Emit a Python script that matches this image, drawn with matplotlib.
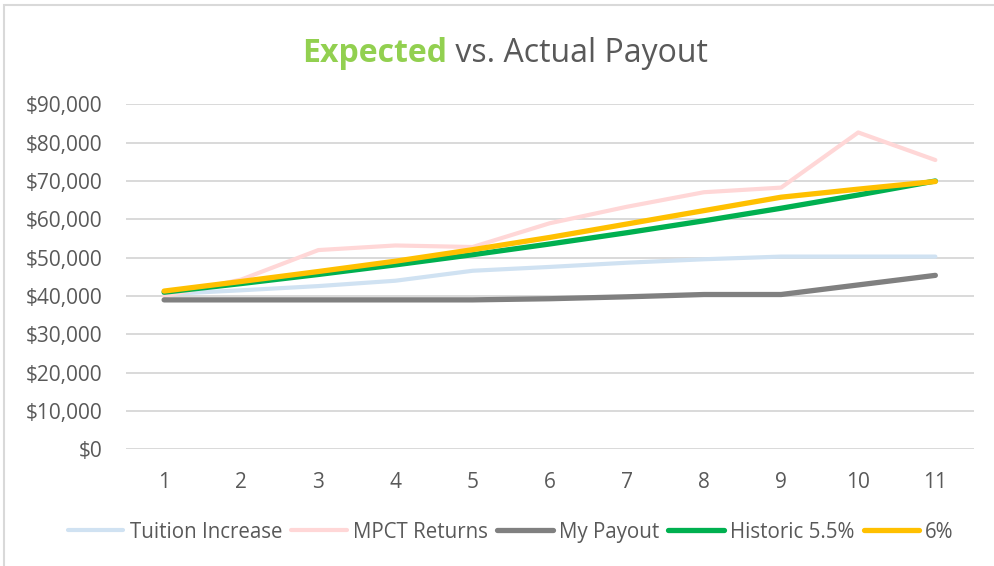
import numpy as np
import matplotlib.pyplot as plt
from matplotlib.patches import Rectangle

plt.rcParams['font.family'] = ['Open Sans', 'DejaVu Sans']

# data
years = [1, 2, 3, 4, 5, 6, 7, 8, 9, 10, 11]
tuition = [40500, 41500, 42600, 44000, 46600, 47600, 48700, 49600, 50300, 50300, 50300]
mpct = [40000, 44300, 52000, 53200, 52800, 59000, 63300, 67100, 68300, 82700, 75500]
my_payout = [39000, 39000, 39000, 39000, 39000, 39300, 39800, 40400, 40400, 42900, 45400]
historic = [41000, 43260, 45630, 48140, 50790, 53590, 56530, 59640, 62920, 66380, 70030]
six_pct = [41300, 43800, 46400, 49100, 52100, 55300, 58800, 62300, 65800, 67900, 69900]
y_ticks = [0, 10000, 20000, 30000, 40000, 50000, 60000, 70000, 80000, 90000]

fig = plt.figure(figsize=(9.94, 5.66), dpi=100)
ax = fig.add_axes([0.1263, 0.2062, 0.8535, 0.6092])

ax.plot(years, tuition, color="#D0E2F2", lw=3.0, label="Tuition Increase", solid_capstyle="round")
ax.plot(years, mpct, color="#FFD7D7", lw=3.0, label="MPCT Returns", solid_capstyle="round")
ax.plot(years, my_payout, color="#808080", lw=3.8, label="My Payout", solid_capstyle="round")
ax.plot(years, historic, color="#00B050", lw=3.8, label="Historic 5.5%", solid_capstyle="round")
ax.plot(years, six_pct, color="#FFC000", lw=3.8, label="6%", solid_capstyle="round")

ax.set_xlim(0.5, 11.5)
ax.set_ylim(0, 90000)
ax.set_xticks(years)
ax.set_yticks(y_ticks)
ax.set_yticklabels(["${:,}".format(v) for v in y_ticks])
ax.tick_params(axis="both", length=0, labelsize=15, labelcolor="#595959")
ax.tick_params(axis="y", pad=16.5)
ax.tick_params(axis="x", pad=16)
ax.grid(axis="y", color="#D9D9D9", lw=1.4)
ax.set_axisbelow(True)
for s in ax.spines.values():
    s.set_visible(False)

# title with two colours
t1 = fig.text(0, 0.89, "Expected", fontsize=23, color="#92D050", fontweight="bold", va="baseline")
t2 = fig.text(0, 0.89, " vs. Actual Payout", fontsize=23, color="#595959", va="baseline")
fig.canvas.draw()
r = fig.canvas.get_renderer()
w1 = t1.get_window_extent(r).width / fig.bbox.width
w2 = t2.get_window_extent(r).width / fig.bbox.width
x0 = 0.508 - (w1 + w2) / 2
t1.set_x(x0)
t2.set_x(x0 + w1)

leg = fig.legend(loc="center", bbox_to_anchor=(0.514, 0.06), ncol=5, frameon=False,
                 fontsize=14.8, handlelength=2.7, handletextpad=0.3, columnspacing=0.45)
for t in leg.get_texts():
    t.set_color("#595959")

fig.patches.append(Rectangle((0.004, -0.1), 1.1, 1.091, transform=fig.transFigure,
                             fill=False, edgecolor="#D9D9D9", lw=1.5))

plt.savefig("out.png")
